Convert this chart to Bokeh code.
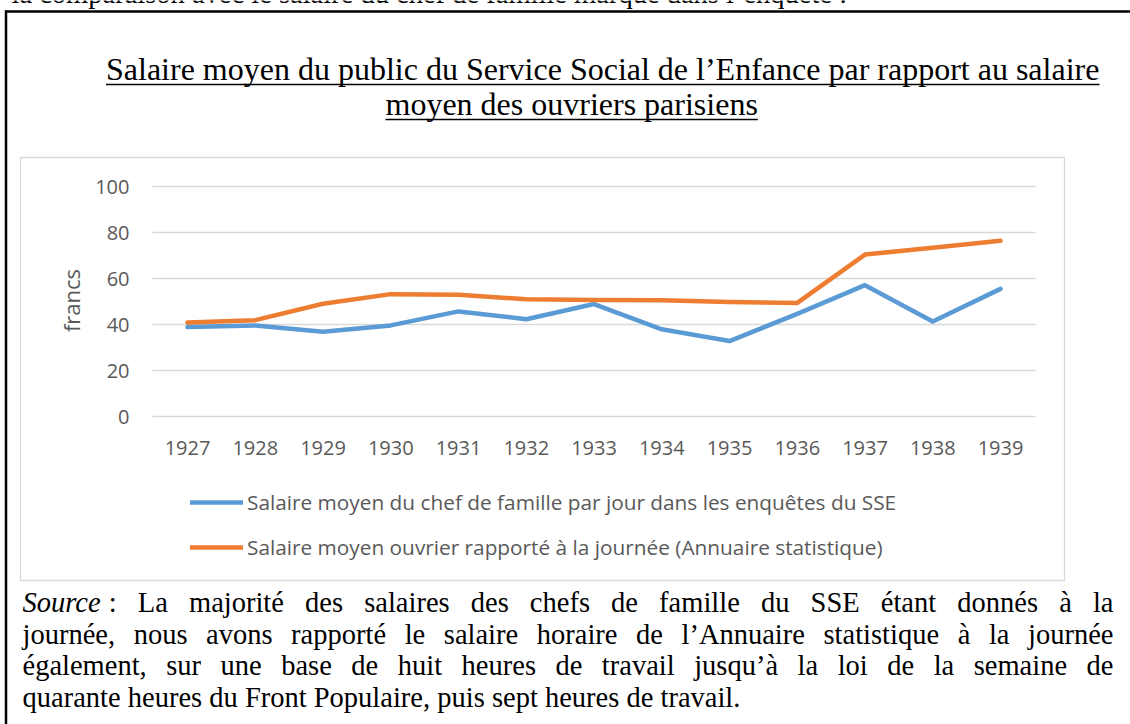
from bokeh.plotting import figure
from bokeh.models import Range1d, LinearAxis, FixedTicker, Legend, LegendItem
from bokeh.core.properties import value
from bokeh.embed import file_html
from bokeh.resources import INLINE

# ---------------- data ----------------
years = [1927, 1928, 1929, 1930, 1931, 1932, 1933, 1934, 1935, 1936, 1937, 1938, 1939]
year_labels = ["1927", "1928", "1929", "1930", "1931", "1932", "1933",
               "1934", "1935", "1936", "1937", "1938", "1939"]
sse_daily = [38.9, 39.6, 36.8, 39.6, 45.7, 42.3, 48.9, 37.9, 32.8, 44.6, 57.1, 41.3, 55.5]
annuaire_daily = [40.9, 41.9, 49.0, 53.2, 52.9, 51.0, 50.6, 50.5, 49.8, 49.4, 70.4, 73.4, 76.4]
y_ticks = [0, 20, 40, 60, 80, 100]
y_tick_labels = ["0", "20", "40", "60", "80", "100"]
series_names = ["Salaire moyen du chef de famille par jour dans les enquêtes du SSE",
                "Salaire moyen ouvrier rapporté à la journée (Annuaire statistique)"]
series_colors = ["#5B9BD5", "#ED7D31"]
y_axis_title = "francs"
title_lines = ["Salaire moyen du public du Service Social de l’Enfance par rapport au salaire",
               "moyen des ouvriers parisiens"]
intro_line = "la comparaison avec le salaire du chef de famille marqué dans l’enquête :"
source_label = "Source"
source_lines = [": La majorité des salaires des chefs de famille du SSE étant donnés à la",
                "journée, nous avons rapporté le salaire horaire de l’Annuaire statistique à la journée",
                "également, sur une base de huit heures de travail jusqu’à la loi de la semaine de",
                "quarante heures du Front Populaire, puis sept heures de travail."]

# ---------------- layout (page pixels) ----------------
W, H = 1130, 724
OX, OY = 0, 0
X_FIRST, X_LAST = 187.0, 1000.0          # px of first / last category
PX_PER_YEAR = (X_LAST - X_FIRST) / (len(years) - 1)
Y_ZERO, PX_PER_UNIT = 416.0, 2.3
PLOT_L, PLOT_R = 152.0, 1035.0
BOX_L, BOX_R, BOX_T, BOX_B = 20.0, 1064.0, 157.0, 580.0
BASE_SHIFT = 0.35                        # text anchor offset (em) to land on the baseline


def year_at(px):
    return years[0] + (px - X_FIRST) / PX_PER_YEAR


def val_at(py):
    return (Y_ZERO - py) / PX_PER_UNIT


def base(y, size):
    return y - BASE_SHIFT * size


p = figure(width=W, height=H, output_backend="svg", toolbar_location=None,
           x_axis_type=None, y_axis_type=None, min_border=0,
           x_range=Range1d(year_at(OX), year_at(OX + W)),
           y_range=Range1d(val_at(OY + H), val_at(OY)))
p.outline_line_color = None
p.background_fill_color = "white"
p.border_fill_color = "white"
p.styles = {"position": "absolute", "left": "0px", "top": "0px"}
p.extra_x_ranges = {"px": Range1d(OX, OX + W)}
p.extra_y_ranges = {"py": Range1d(OY + H, OY)}

# ---------------- Times metrics for justification ----------------
TIMES = {' ': 250, 'a': 444, 'b': 500, 'c': 444, 'd': 500, 'e': 444, 'f': 333, 'g': 500,
         'h': 500, 'i': 278, 'j': 278, 'k': 500, 'l': 278, 'm': 778, 'n': 500, 'o': 500,
         'p': 500, 'q': 500, 'r': 333, 's': 389, 't': 278, 'u': 500, 'v': 500, 'w': 722,
         'x': 500, 'y': 500, 'z': 444, 'A': 722, 'B': 667, 'C': 667, 'D': 722, 'E': 611,
         'F': 556, 'G': 722, 'H': 722, 'I': 333, 'J': 389, 'K': 722, 'L': 611, 'M': 889,
         'N': 722, 'O': 722, 'P': 556, 'Q': 722, 'R': 667, 'S': 556, 'T': 611, 'U': 722,
         'V': 722, 'W': 944, 'X': 722, 'Y': 722, 'Z': 611, ',': 250, '.': 250, ':': 278,
         '’': 333, '(': 333, ')': 333, 'é': 444, 'è': 444, 'ê': 444, 'à': 444, 'â': 444,
         'ç': 444, 'ô': 500, 'î': 278, 'û': 500}
TIMES_I = {'S': 500, 'o': 500, 'u': 500, 'r': 389, 'c': 444, 'e': 444}


def tw(s, size, italic=False):
    tot = 0
    for ch in s:
        if italic and ch in TIMES_I:
            tot += TIMES_I[ch]
        else:
            tot += TIMES.get(ch, 500)
    return tot * size / 1000.0


SERIF = value("Liberation Serif")
SANS = value("Open Sans")
FS = 28.5

# ---------------- page frame ----------------
p.segment(x0=[5.5, 4.5], y0=[724, 11], x1=[5.5, 1130], y1=[10, 11],
          x_range_name="px", y_range_name="py", line_color="black", line_width=2.5)

# intro line (cut at top of page, as in the source document)
p.text(x=[11], y=[base(3, FS)], text=[intro_line], x_range_name="px", y_range_name="py",
       text_font=SERIF, text_font_size=f"{FS}px", text_baseline="alphabetic",
       text_align="left", text_color="black")

# title, underlined
TS = 32
t_left = [105.5, 385.0]
t_base = [79.5, 114.5]
p.text(x=t_left, y=[base(b, TS) for b in t_base], text=title_lines,
       x_range_name="px", y_range_name="py",
       text_font=SERIF, text_font_size=f"{TS}px", text_baseline="alphabetic",
       text_align="left", text_color="black")
p.segment(x0=t_left, x1=[l + tw(s, TS) for l, s in zip(t_left, title_lines)],
          y0=[b + 4.5 for b in t_base], y1=[b + 4.5 for b in t_base],
          x_range_name="px", y_range_name="py", line_color="black", line_width=1.6)

# chart box
p.quad(left=[BOX_L], right=[BOX_R], top=[BOX_T], bottom=[BOX_B],
       x_range_name="px", y_range_name="py", fill_color=None,
       line_color="#D9D9D9", line_width=1.3)

# gridlines
p.segment(x0=[PLOT_L] * len(y_ticks), x1=[PLOT_R] * len(y_ticks), y0=y_ticks, y1=y_ticks,
          x_range_name="px", line_color="#D9D9D9", line_width=1.5)

# axes
xaxis = LinearAxis(ticker=FixedTicker(ticks=years),
                   major_label_overrides={y: l for y, l in zip(years, year_labels)},
                   fixed_location=0)
yaxis = LinearAxis(ticker=FixedTicker(ticks=y_ticks),
                   major_label_overrides={t: l for t, l in zip(y_ticks, y_tick_labels)},
                   fixed_location=year_at(PLOT_L))
for ax in (xaxis, yaxis):
    ax.axis_line_color = None
    ax.major_tick_line_color = None
    ax.minor_tick_line_color = None
    ax.major_tick_out = 0
    ax.major_tick_in = 0
    ax.major_label_text_font = "Open Sans"
    ax.major_label_text_font_size = "20px"
    ax.major_label_text_color = "#595959"
xaxis.major_label_standoff = 24
yaxis.major_label_standoff = 23
p.add_layout(xaxis, "below")
p.add_layout(yaxis, "left")

# axis title
p.text(x=[70], y=[300], text=[y_axis_title], angle=1.5707963, x_range_name="px",
       y_range_name="py", text_font=SANS, text_font_size="22px", text_align="center",
       text_baseline="middle", text_color="#595959")

# series
r1 = p.line(years, sse_daily, line_color=series_colors[0], line_width=4.5,
            line_cap="round", line_join="round")
r2 = p.line(years, annuaire_daily, line_color=series_colors[1], line_width=4.5,
            line_cap="round", line_join="round")

legend = Legend(items=[LegendItem(label=series_names[0], renderers=[r1]),
                       LegendItem(label=series_names[1], renderers=[r2])],
                location=(190 - OX, (OY + H) - 561), orientation="vertical",
                glyph_width=53, glyph_height=24, label_height=24, spacing=17,
                label_standoff=4, padding=0, margin=0, border_line_color=None,
                background_fill_alpha=0, label_text_font="Open Sans",
                label_text_font_size="20.8px", label_text_color="#595959")
p.add_layout(legend)

# source paragraph (justified; "Source :" uses a non-stretching space)
P_LEFT, P_RIGHT = 22.0, 1113.0
p_base = [611.5, 643.5, 675.0, 707.0]
reg_x, reg_y, reg_t = [], [], []
lab_w = tw(source_label, FS, True) + tw(" ", FS)
for i, line in enumerate(source_lines):
    words = line.split(" ")
    widths = [tw(w, FS) for w in words]
    start = P_LEFT
    if i == 0:
        widths[0] += lab_w          # label + colon form one unbreakable unit
    if i < len(source_lines) - 1:
        gap = (P_RIGHT - start - sum(widths)) / (len(words) - 1)
    else:
        gap = tw(" ", FS)
    x = start
    for k, (w, wd) in enumerate(zip(words, widths)):
        reg_x.append(x + (lab_w if (i == 0 and k == 0) else 0))
        reg_y.append(base(p_base[i], FS))
        reg_t.append(w)
        x += wd + gap

p.text(x=reg_x, y=reg_y, text=reg_t, x_range_name="px", y_range_name="py",
       text_font=SERIF, text_font_size=f"{FS}px", text_baseline="alphabetic",
       text_align="left", text_color="black")
p.text(x=[P_LEFT], y=[base(p_base[0], FS)], text=[source_label], x_range_name="px",
       y_range_name="py", text_font=SERIF, text_font_size=f"{FS}px",
       text_font_style="italic", text_baseline="alphabetic", text_align="left",
       text_color="black")

open("out.html", "w").write(file_html(p, INLINE))
